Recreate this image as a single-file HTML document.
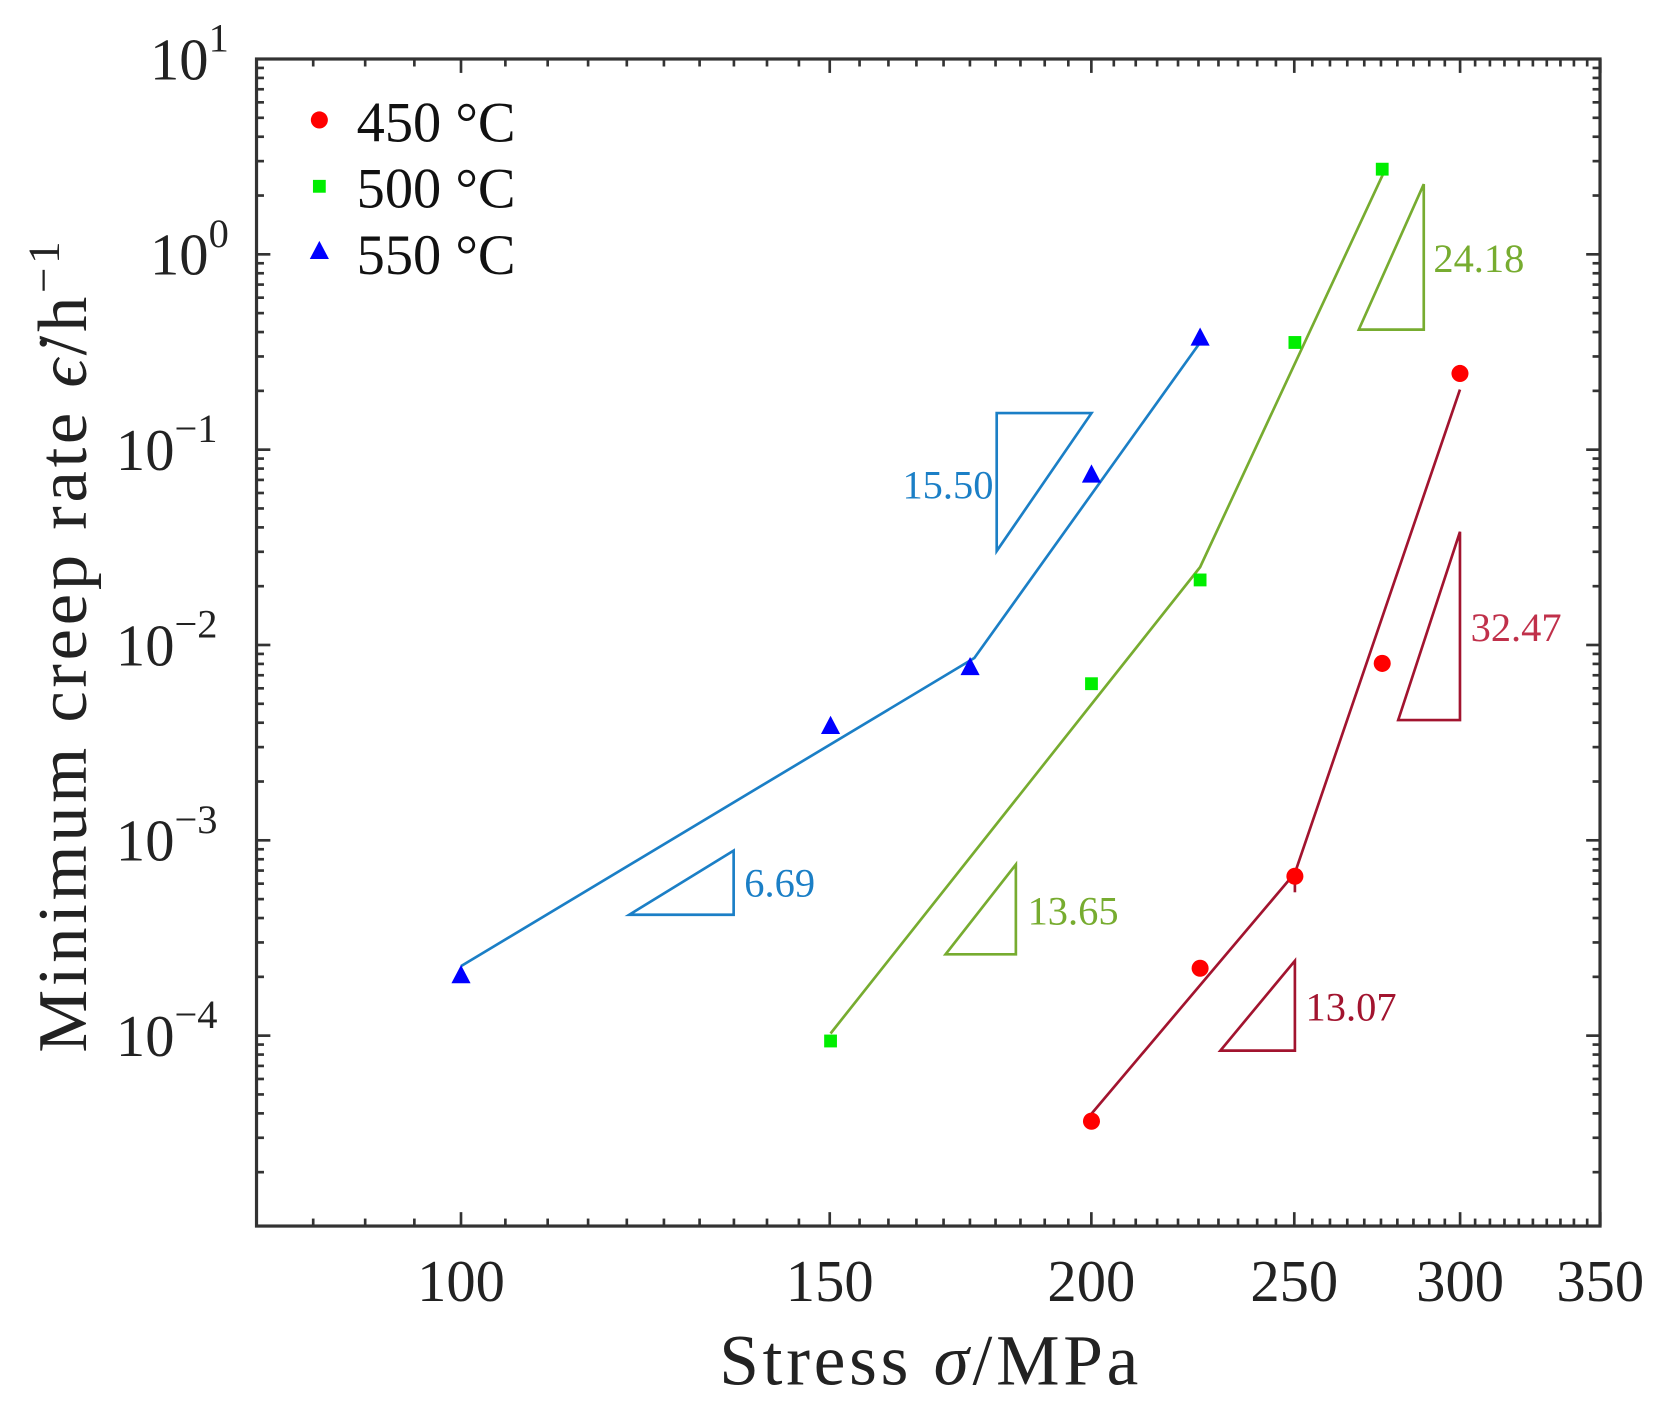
<!DOCTYPE html>
<html><head><meta charset="utf-8"><style>
html,body{margin:0;padding:0;background:#fff;width:1672px;height:1423px;overflow:hidden}
svg{display:block}
text{font-family:"Liberation Serif",serif}
</style></head><body>
<svg id="s" width="1672" height="1423" viewBox="0 0 1672 1423" xmlns="http://www.w3.org/2000/svg">
<rect x="0" y="0" width="1672" height="1423" fill="#fff"/>
<g transform="translate(3.05,-1.97) scale(1.065,1.0697)">
<g id="ticks" stroke="#333" stroke-width="2.5"></g>
<rect x="238" y="57" width="1261.5" height="1091" fill="none" stroke="#333" stroke-width="3"/>
<g id="labels" fill="#222" font-size="55"></g>
<polyline points="430,905 912,617 1124,322" fill="none" stroke="#1b7fc6" stroke-width="2.5"/>
<polyline points="777,968 1124,532 1297,162" fill="none" stroke="#77ac30" stroke-width="2.5"/>
<polyline points="1022,1043 1213,818 1368,366" fill="none" stroke="#a2142f" stroke-width="2.5"/>
<line x1="1213" y1="818" x2="1213" y2="836" stroke="#a2142f" stroke-width="2.5"/>
<g fill="none" stroke-width="2.5">
<polygon points="588,857 686,857 686,797" stroke="#1b7fc6"/>
<polygon points="933,388 1022,388 933,517" stroke="#1b7fc6"/>
<polygon points="885,894 951,894 951,810" stroke="#77ac30"/>
<polygon points="1273,310 1334,310 1334,174" stroke="#77ac30"/>
<polygon points="1143,984 1213,984 1213,900" stroke="#a2142f"/>
<polygon points="1310,675 1368,675 1368,499" stroke="#a2142f"/>
</g>
<g font-size="38">
<text x="696" y="840" fill="#1b7fc6">6.69</text>
<text x="930" y="468" fill="#1b7fc6" text-anchor="end">15.50</text>
<text x="962" y="866" fill="#77ac30">13.65</text>
<text x="1343" y="256" fill="#77ac30">24.18</text>
<text x="1223" y="956" fill="#a2142f">13.07</text>
<text x="1378" y="601" fill="#c0304a">32.47</text>
</g>
<g fill="#0000ff">
<polygon points="430,904 421,921 439,921"/>
<polygon points="777,671 768,688 786,688"/>
<polygon points="908,616 899,633 917,633"/>
<polygon points="1022,436 1013,453 1031,453"/>
<polygon points="1124,308 1115,325 1133,325"/>
</g>
<g fill="#00ee00">
<rect x="771" y="969" width="12" height="12"/>
<rect x="1016" y="635" width="12" height="12"/>
<rect x="1118" y="538" width="12" height="12"/>
<rect x="1207" y="316" width="12" height="12"/>
<rect x="1289" y="154" width="12" height="12"/>
</g>
<g fill="#ff0000">
<circle cx="1022" cy="1050" r="8"/>
<circle cx="1124" cy="907" r="8"/>
<circle cx="1213" cy="821" r="8"/>
<circle cx="1295" cy="622" r="8"/>
<circle cx="1368" cy="351" r="8"/>
</g>
<circle cx="297" cy="114" r="8" fill="#ff0000"/>
<rect x="291" y="170" width="12" height="12" fill="#00ee00"/>
<polygon points="297,227 288,244 306,244" fill="#0000ff"/>
<g font-size="53" fill="#111">
<text x="332" y="134">450 °C</text>
<text x="332" y="196">500 °C</text>
<text x="332" y="258">550 °C</text>
</g>
<text x="871" y="1296" font-size="67" letter-spacing="3.5" fill="#222" text-anchor="middle">Stress <tspan font-style="italic">σ</tspan>/MPa</text>
<text transform="translate(78,605) rotate(-90)" font-size="66" letter-spacing="3.5" fill="#222" text-anchor="middle">Minimum creep rate <tspan font-style="italic">ϵ̇</tspan>/h<tspan dy="-26" font-size="42">−1</tspan></text>
</g>
</svg>
<script>
var NS="http://www.w3.org/2000/svg";
var L=238,R=1499.5,T=57,B=1148;
function X(v){return 430+1966.2*Math.log10(v/100);}
function Y(v){return 57-182.6*Math.log10(v/10);}
var tg=document.getElementById('ticks'),lg=document.getElementById('labels');
function ln(x1,y1,x2,y2){var e=document.createElementNS(NS,'line');e.setAttribute('x1',x1);e.setAttribute('y1',y1);e.setAttribute('x2',x2);e.setAttribute('y2',y2);tg.appendChild(e);}
for(var v=85;v<=350;v+=5){var x=X(v);var maj=(v%50==0);var l=maj?13:7;ln(x,B,x,B-l);ln(x,T,x,T+l);
 if(maj){var t=document.createElementNS(NS,'text');t.setAttribute('x',x);t.setAttribute('y',1218);t.setAttribute('text-anchor','middle');t.textContent=v;lg.appendChild(t);}}
for(var e=-5;e<=0;e++){for(var m=1;m<=9;m++){var val=m*Math.pow(10,e);var y=Y(val);if(y>B||y<T)continue;var l=(m==1)?13:7;ln(L,y,L+l,y);ln(R,y,R-l,y);}}
for(var e=1;e>=-4;e--){var y=Y(Math.pow(10,e));var t=document.createElementNS(NS,'text');t.setAttribute('y',y+19);
 t.textContent='10';var s=document.createElementNS(NS,'tspan');s.setAttribute('dy','-26');s.setAttribute('font-size','38');s.textContent=(e<0?'−':'')+Math.abs(e);t.appendChild(s);
 t.setAttribute('text-anchor','start');t.setAttribute('x',e<0?106:138);lg.appendChild(t);}
</script>
</body></html>
